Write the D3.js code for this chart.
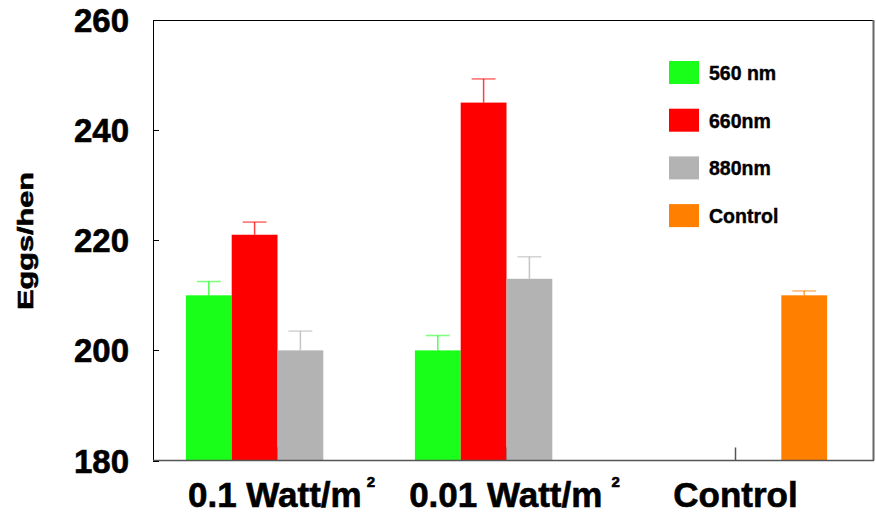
<!DOCTYPE html>
<html><head><meta charset="utf-8">
<script src="https://cdn.jsdelivr.net/npm/d3@7"></script>
<style>body{margin:0;background:#fff}svg{display:block}text{font-family:"Liberation Sans",Arial,sans-serif;font-weight:bold;fill:#000;stroke:#000;stroke-width:0.6px}</style>
</head><body><svg id="c" width="876" height="520"></svg>
<script>
const categories = ["0.1 Watt/m", "0.01 Watt/m", "Control"];
const categorySup = ["2", " 2", ""];
const seriesNames = ["560 nm", "660nm", "880nm", "Control"];
const seriesColors = ["#1aff1a", "#ff0000", "#b3b3b3", "#ff8000"];
const values560 = [210, 200, null];
const values660 = [221, 245, null];
const values880 = [200, 213, null];
const valuesControl = [null, null, 210];
const err560 = [2.5, 2.7, null];
const err660 = [2.3, 4.3, null];
const err880 = [3.5, 4.0, null];
const errControl = [null, null, 0.8];
const yTicks = [180, 200, 220, 240, 260];

const seriesValues = [values560, values660, values880, valuesControl];
const seriesErr = [err560, err660, err880, errControl];

const svg = d3.select("#c");
const L = 153, R = 874, T = 20, B = 460.5;

const y = d3.scaleLinear().domain([180, 260]).range([B, T]);
const x = d3.scaleBand().domain(categories).range([163, 850]).paddingInner(0).paddingOuter(0);
const xs = d3.scaleBand().domain(seriesNames).range([0, x.bandwidth()]).paddingInner(0).paddingOuter(0.5);

// frame
svg.append("line").attr("x1", L).attr("x2", R).attr("y1", T + 0.5).attr("y2", T + 0.5).attr("stroke", "#000");
svg.append("line").attr("x1", R - 0.5).attr("x2", R - 0.5).attr("y1", T).attr("y2", B).attr("stroke", "#666").attr("stroke-width", 2);

// x ticks (upward, at category centres)
svg.append("g").selectAll("line").data(categories).join("line")
  .attr("x1", d => x(d) + x.bandwidth() / 2).attr("x2", d => x(d) + x.bandwidth() / 2)
  .attr("y1", B).attr("y2", B - 13).attr("stroke", "#555").attr("stroke-width", 1.5);

// bars
const rows = [];
seriesNames.forEach((s, si) => categories.forEach((c, ci) => {
  const v = seriesValues[si][ci];
  if (v != null) rows.push({s, si, c, v, e: seriesErr[si][ci]});
}));
const g = svg.append("g");
g.selectAll("rect").data(rows).join("rect")
  .attr("x", d => x(d.c) + xs(d.s)).attr("width", xs.bandwidth())
  .attr("y", d => y(d.v)).attr("height", d => y(180) - y(d.v))
  .attr("fill", d => seriesColors[d.si]);

// error bars
const eg = svg.append("g");
rows.forEach(d => {
  const cx = x(d.c) + xs(d.s) + xs.bandwidth() / 2;
  eg.append("line").attr("x1", cx).attr("x2", cx).attr("y1", y(d.v)).attr("y2", y(d.v + d.e))
    .attr("stroke", seriesColors[d.si]).attr("stroke-width", 1.5).attr("opacity", 0.75);
  eg.append("line").attr("x1", cx - xs.bandwidth() * 0.26).attr("x2", cx + xs.bandwidth() * 0.26)
    .attr("y1", y(d.v + d.e)).attr("y2", y(d.v + d.e))
    .attr("stroke", seriesColors[d.si]).attr("stroke-width", 1.6).attr("opacity", 0.55);
});

// left & bottom axis lines
svg.append("line").attr("x1", L + 0.5).attr("x2", L + 0.5).attr("y1", T).attr("y2", B).attr("stroke", "#000");
svg.append("line").attr("x1", L).attr("x2", R).attr("y1", B).attr("y2", B).attr("stroke", "#555").attr("stroke-width", 1.5);

// y ticks
const yg = svg.append("g");
yg.selectAll("line").data(yTicks).join("line")
  .attr("x1", L).attr("x2", L + 6).attr("y1", d => Math.round(y(d)) + 0.5).attr("y2", d => Math.round(y(d)) + 0.5)
  .attr("stroke", "#000");
yg.selectAll("text").data(yTicks).join("text")
  .attr("x", 129).attr("y", d => y(d) + 12).attr("text-anchor", "end")
  .attr("font-size", 33).text(d => d);

// y label
svg.append("text").attr("transform", "translate(33,241) rotate(-90)")
  .attr("text-anchor", "middle").attr("font-size", 22)
  .attr("textLength", 138).attr("lengthAdjust", "spacingAndGlyphs").text("Eggs/hen");

// x labels
const xl = svg.append("g");
categories.forEach((c, i) => {
  const t = xl.append("text").attr("x", x(c) + x.bandwidth() / 2 + (i === 0 ? 4 : i === 1 ? 8 : 0)).attr("y", 507)
    .attr("text-anchor", "middle").attr("font-size", 35);
  t.append("tspan").text(c);
  if (categorySup[i]) t.append("tspan").attr("font-size", 15).attr("dy", -20).attr("dx", 5)
    .attr("xml:space", "preserve").text(categorySup[i]);
});

// legend
const lg = svg.append("g");
seriesNames.forEach((s, i) => {
  const yy = 61 + i * 47.7;
  lg.append("rect").attr("x", 669).attr("y", yy).attr("width", 30).attr("height", 23).attr("fill", seriesColors[i]);
  lg.append("text").attr("x", 709).attr("y", yy + 19).attr("font-size", 19.5).style("stroke-width", "0.4px").text(s);
});
</script></body></html>
